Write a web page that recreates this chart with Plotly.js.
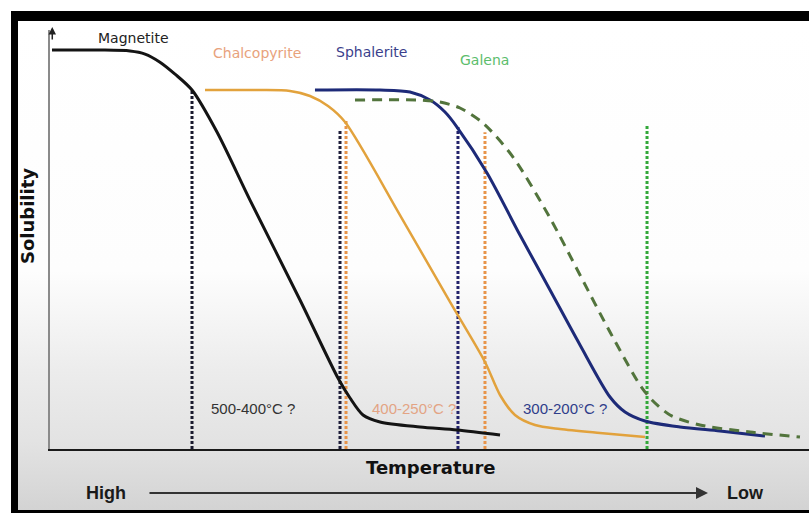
<!DOCTYPE html>
<html>
<head>
<meta charset="utf-8">
<script src="https://cdn.plot.ly/plotly-3.0.1.min.js"></script>
<style>
  html, body { margin: 0; padding: 0; background: #ffffff; overflow: hidden; width: 809px; height: 513px; }
  .blk { position: absolute; background: #000; }
  #bg {
    position: absolute; left: 18px; top: 21px; right: 0px; bottom: 3px;
    background: linear-gradient(to bottom, #ffffff 0px, #fdfdfd 250px, #ececec 350px, #e3e3e3 420px, #dadada 460px, #d3d3d3 489px);
  }
  #chart { position: absolute; left: 0; top: 0; width: 809px; height: 513px; }
</style>
</head>
<body>
<div id="bg"></div>
<div class="blk" style="left:11px; top:11px; right:0px; height:10px;"></div>
<div class="blk" style="left:11px; top:11px; width:7px; bottom:0px;"></div>
<div class="blk" style="left:11px; bottom:0px; right:0px; height:3px;"></div>
<div id="chart"></div>
<script>
// Solubility curves (x: relative temperature position, high -> low; y: relative solubility)
const magnetiteX = [0.26, 6.59, 10.54, 12.52, 14.49, 16.47, 18.71, 22.0, 26.35, 32.94, 37.94, 39.53, 41.24, 43.48, 48.75, 53.62, 59.29];
const magnetiteY = [93.44, 93.44, 93.21, 92.5, 90.6, 87.8, 84.07, 74.24, 58.3, 34.9, 16.63, 11.94, 7.96, 6.32, 5.15, 4.45, 3.28];

const chalcopyriteX = [20.42, 27.67, 31.62, 34.26, 36.63, 38.87, 46.11, 52.7, 57.31, 59.29, 61.26, 63.9, 67.19, 72.46, 78.39];
const chalcopyriteY = [84.07, 84.07, 83.84, 82.67, 80.33, 76.58, 54.8, 34.43, 20.37, 12.65, 7.96, 5.62, 4.68, 3.75, 2.81];

const sphaleriteX = [34.91, 43.48, 47.43, 50.07, 52.04, 53.62, 57.58, 61.92, 65.88, 69.83, 73.78, 75.76, 78.39, 83.0, 88.27, 94.2];
const sphaleriteY = [84.07, 84.07, 83.61, 81.73, 78.92, 75.41, 64.64, 50.12, 37.24, 24.36, 12.18, 8.67, 6.56, 5.15, 4.22, 3.04];

const galenaX = [40.18, 48.75, 51.38, 54.02, 57.05, 61.0, 65.88, 69.83, 73.78, 77.73, 79.31, 81.69, 85.64, 92.23, 98.81];
const galenaY = [81.73, 81.73, 81.26, 79.86, 76.35, 68.38, 54.1, 40.75, 27.4, 14.99, 11.48, 7.96, 5.62, 3.98, 2.81];

// Vertical marker lines (precipitation temperatures)
const markerX   = [18.71, 38.21, 39.0, 53.75, 57.31, 78.66];
const markerTop = [84.07, 74.7, 77.05, 75.4, 74.2, 75.9];

// Text labels
const curveNames = ["Magnetite", "Chalcopyrite", "Sphalerite", "Galena"];
const curveLabelX = [10.94, 27.27, 42.42, 57.31];
const curveLabelY = [96.25, 92.74, 92.97, 91.1];
const rangeLabels = ["500-400°C ?", "400-250°C ?", "300-200°C ?"];
const rangeLabelX = [26.75, 47.96, 67.85];
const rangeLabelY = [9.6, 9.6, 9.6];

const FONT = "Liberation Sans, Arial, sans-serif";
const WIDE = "DejaVu Sans, Verdana, sans-serif";
const curveColors = ["#141414", "#e2a23c", "#1d2a78", "#52743c"];
const curveLabelColors = ["#222222", "#e8a27c", "#3b3f8c", "#5cbd6c"];
const markerColors = ["#1a1a2e", "#1e1e3a", "#e8944a", "#23236b", "#e8944a", "#33a83a"];
const rangeColors = ["#333333", "#e3a484", "#2f3d8a"];

const traces = [];
// vertical dotted lines first (under curves)
markerX.forEach((xv, i) => {
  traces.push({
    x: [xv, xv], y: [0, markerTop[i]], mode: "lines", type: "scatter",
    line: { color: markerColors[i], width: 3, dash: "3px,2px" },
    hoverinfo: "skip", showlegend: false
  });
});
traces.push({ x: magnetiteX, y: magnetiteY, mode: "lines", type: "scatter", name: curveNames[0],
  line: { color: curveColors[0], width: 3, shape: "spline", smoothing: 0.8 } });
traces.push({ x: chalcopyriteX, y: chalcopyriteY, mode: "lines", type: "scatter", name: curveNames[1],
  line: { color: curveColors[1], width: 2.5, shape: "spline", smoothing: 0.8 } });
traces.push({ x: sphaleriteX, y: sphaleriteY, mode: "lines", type: "scatter", name: curveNames[2],
  line: { color: curveColors[2], width: 3, shape: "spline", smoothing: 0.8 } });
traces.push({ x: galenaX, y: galenaY, mode: "lines", type: "scatter", name: curveNames[3],
  line: { color: curveColors[3], width: 3, shape: "spline", smoothing: 0.8, dash: "10px,7px" } });

const annotations = [];
curveNames.forEach((n, i) => {
  annotations.push({ x: curveLabelX[i], y: curveLabelY[i], xref: "x", yref: "y", text: n, showarrow: false,
    xanchor: "center", yanchor: "middle",
    font: { family: WIDE, size: 14, color: curveLabelColors[i] } });
});
rangeLabels.forEach((t, i) => {
  annotations.push({ x: rangeLabelX[i], y: rangeLabelY[i], xref: "x", yref: "y", text: t, showarrow: false,
    xanchor: "center", yanchor: "middle",
    font: { family: FONT, size: 15, color: rangeColors[i] } });
});
// axis titles
annotations.push({ x: 0.5007, y: -0.043, xref: "paper", yref: "paper", text: "<b>Temperature</b>", showarrow: false,
  xanchor: "center", yanchor: "middle", font: { family: WIDE, size: 18, color: "#111" } });
annotations.push({ x: -0.0303, y: 0.556, xref: "paper", yref: "paper", text: "<b>Solubility</b>", showarrow: false,
  xanchor: "center", yanchor: "middle", textangle: -90, font: { family: WIDE, size: 18, color: "#111" } });
// High -> Low arrow
annotations.push({ x: 0.0738, y: -0.105, xref: "paper", yref: "paper", text: "<b>High</b>", showarrow: false,
  xanchor: "center", yanchor: "middle", font: { family: FONT, size: 18, color: "#1a1a1a" } });
annotations.push({ x: 0.9157, y: -0.105, xref: "paper", yref: "paper", text: "<b>Low</b>", showarrow: false,
  xanchor: "center", yanchor: "middle", font: { family: FONT, size: 18, color: "#1a1a1a" } });
annotations.push({ x: 0.8669, y: -0.105, xref: "paper", yref: "paper", text: "", showarrow: true,
  ax: -560, ay: 0, arrowhead: 2, arrowsize: 1.2, arrowwidth: 2, arrowcolor: "#333" });
// y-axis arrowhead
annotations.push({ x: 0.003, y: 1.007, xref: "paper", yref: "paper", text: "", showarrow: true,
  ax: 0, ay: 14, arrowhead: 2, arrowsize: 1, arrowwidth: 1.5, arrowcolor: "#222" });

const layout = {
  width: 809, height: 513,
  margin: { l: 50, r: 0, t: 30, b: 64 },
  paper_bgcolor: "rgba(0,0,0,0)", plot_bgcolor: "rgba(0,0,0,0)",
  showlegend: false,
  xaxis: { range: [0, 100], showgrid: false, zeroline: false, showticklabels: false, ticks: "",
    showline: true, linecolor: "#1a1a1a", linewidth: 2, fixedrange: true },
  yaxis: { range: [0, 98.13], showgrid: false, zeroline: false, showticklabels: false, ticks: "",
    showline: true, linecolor: "#8a8a8a", linewidth: 2, fixedrange: true },
  annotations: annotations
};

Plotly.newPlot("chart", traces, layout, { displayModeBar: false, staticPlot: true });
</script>
</body>
</html>
